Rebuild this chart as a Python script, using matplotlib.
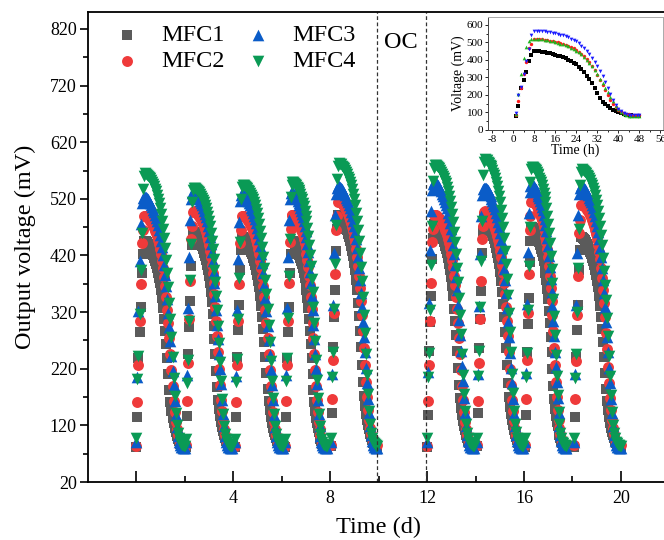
import numpy as np
import matplotlib
matplotlib.use("Agg")
import matplotlib.pyplot as plt
from matplotlib.ticker import MultipleLocator, FixedLocator

plt.rcParams['font.family'] = ['Liberation Serif', 'DejaVu Serif']
plt.rcParams['axes.unicode_minus'] = False

# one discharge cycle (voltage in mV, every hour)
hours = list(range(1, 49))
mfc1_h = [82, 135, 240, 287, 331, 392, 427,
          450, 450, 449, 447, 445, 442, 438, 434, 430, 425, 420, 414,
          408, 401, 393, 384, 374, 362, 347, 330, 310, 289, 266, 240, 212, 184,
          162, 146, 134, 124, 116, 109, 102, 97, 92, 88, 85, 83, 82, 81, 81]
mfc2_h = [85, 168, 237, 320, 390, 468, 492,
          518, 519, 518, 517, 515, 513, 510, 507, 504, 500, 496, 491,
          486, 480, 473, 465, 456, 446, 434, 420, 404, 386, 365, 342, 316, 288,
          258, 227, 197, 170, 148, 130, 116, 105, 97, 92, 89, 87, 86, 85, 85]
mfc3_h = [90, 205, 320, 408, 472, 508, 518,
          520, 520, 519, 517, 515, 512, 509, 505, 501, 497, 493, 488,
          483, 477, 470, 462, 453, 443, 431, 417, 401, 383, 363, 341, 317, 292,
          267, 241, 215, 190, 163, 138, 117, 101, 91, 85, 82, 81, 80, 80, 80]
mfc4_h = [97, 202, 244, 318, 395, 462, 540,
          562, 567, 566, 565, 563, 561, 558, 555, 552, 548, 544, 540,
          535, 529, 522, 514, 505, 495, 482, 468, 452, 434, 413, 390, 365, 338,
          308, 276, 241, 205, 172, 143, 121, 106, 97, 91, 88, 86, 85, 84, 84]

# main plot: every cycle (day it starts, day it ends, peak of each MFC)
cycle_start = [0.0, 2.05, 4.05, 6.15, 8.05, 12.0, 14.05, 16.05, 18.05]
cycle_end = [2.0, 3.95, 6.05, 7.85, 9.95, 13.95, 15.95, 17.75, 20.0]
peak_mfc1 = [446, 462, 452, 446, 492, 476, 488, 470, 452]
peak_mfc2 = [490, 498, 490, 492, 516, 492, 498, 516, 510]
peak_mfc3 = [524, 532, 528, 532, 542, 549, 540, 545, 542]
peak_mfc4 = [565, 540, 545, 550, 583, 580, 590, 577, 572]
base = 75


def build(profile, peaks):
    prof = np.array(profile, float)
    h = np.array(hours, float)
    xs, ys = [], []
    for t0, t1, pk in zip(cycle_start, cycle_end, peaks):
        xs.append(t0 + (h - 1) / 47 * (t1 - t0))
        ys.append(base + (prof - base) * (pk - base) / (prof.max() - base))
    return np.concatenate(xs), np.concatenate(ys)


fig = plt.figure(figsize=(6.64, 5.4), dpi=100)
ax = fig.add_axes([0.1325, 0.1074, 0.8756, 0.8704])

series = [
    ("MFC1", mfc1_h, peak_mfc1, "s", "#5b5b5b", 50),
    ("MFC2", mfc2_h, peak_mfc2, "o", "#ef3a3a", 62),
    ("MFC3", mfc3_h, peak_mfc3, "^", "#0a5cc8", 70),
    ("MFC4", mfc4_h, peak_mfc4, "v", "#0a9a55", 70),
]
for name, prof, peaks, mk, col, sz in series:
    x, y = build(prof, peaks)
    ax.scatter(x, y, marker=mk, s=sz, color=col, linewidths=0, label=name)

ax.axvline(9.95, color="#333333", lw=0.9, ls=(0, (3, 2)))
ax.axvline(11.95, color="#333333", lw=0.9, ls=(0, (3, 2)))
ax.text(10.9, 797, "OC", ha="center", va="center", fontsize=17.5)

ax.set_xlim(-2, 22)
ax.set_ylim(20, 850)
ax.xaxis.set_major_locator(FixedLocator([0, 4, 8, 12, 16, 20]))
ax.set_xticklabels(["", "4", "8", "12", "16", "20"])
ax.xaxis.set_minor_locator(FixedLocator([2, 6, 10, 14, 18]))
ax.set_yticks(range(20, 821, 100))
ax.yaxis.set_minor_locator(FixedLocator(range(70, 821, 100)))
ax.tick_params(axis="x", which="major", direction="in", length=8, width=1.2, labelsize=13, pad=6)
ax.tick_params(axis="x", which="minor", direction="in", length=4.5, width=1.2)
ax.tick_params(axis="y", which="major", direction="out", length=6, width=1.2, labelsize=13, pad=2)
ax.tick_params(axis="y", which="minor", direction="out", length=3.5, width=1.2)
ax.tick_params(top=False, right=False, which="both")
for sp in ax.spines.values():
    sp.set_linewidth(1.3)

ax.set_xlabel("Time (d)", fontsize=17.5, labelpad=7)
ax.set_ylabel("Output voltage (mV)", fontsize=17.5, labelpad=10)

ax.legend(loc="upper left", bbox_to_anchor=(0.009, 1.005), ncol=2, frameon=False,
          fontsize=17.5, scatterpoints=1, handletextpad=0.58, columnspacing=0.6,
          handlelength=1.6, labelspacing=0.15, borderaxespad=0.2)

# inset: a single cycle in hours
ins = fig.add_axes([0.735, 0.7593, 0.2636, 0.2093])
ins.scatter(hours, mfc1_h, marker="s", s=5, color="black", linewidths=0)
ins.scatter(hours, mfc2_h, marker="o", s=6, color="#ff1a1a", linewidths=0)
ins.scatter(hours, mfc3_h, marker="^", s=7, color="#1fb51f", linewidths=0)
ins.scatter(hours, mfc4_h, marker="v", s=7, color="#1a1aff", linewidths=0)
ins.set_xlim(-9.5, 57)
ins.set_ylim(0, 645)
ins.xaxis.set_major_locator(MultipleLocator(8))
ins.xaxis.set_minor_locator(MultipleLocator(4))
ins.yaxis.set_major_locator(MultipleLocator(100))
ins.yaxis.set_minor_locator(MultipleLocator(50))
ins.tick_params(which="major", direction="out", length=2.5, width=0.6, labelsize=8, pad=1)
ins.tick_params(which="minor", direction="out", length=1.5, width=0.6)
ins.set_xlabel("Time (h)", fontsize=10, labelpad=0)
ins.set_ylabel("Voltage (mV)", fontsize=10, labelpad=1)
for side, sp in ins.spines.items():
    sp.set_linewidth(0.7)
    sp.set_color("#444444" if side in ("left", "bottom") else "#aaaaaa")

fig.savefig("out.png", dpi=100)
